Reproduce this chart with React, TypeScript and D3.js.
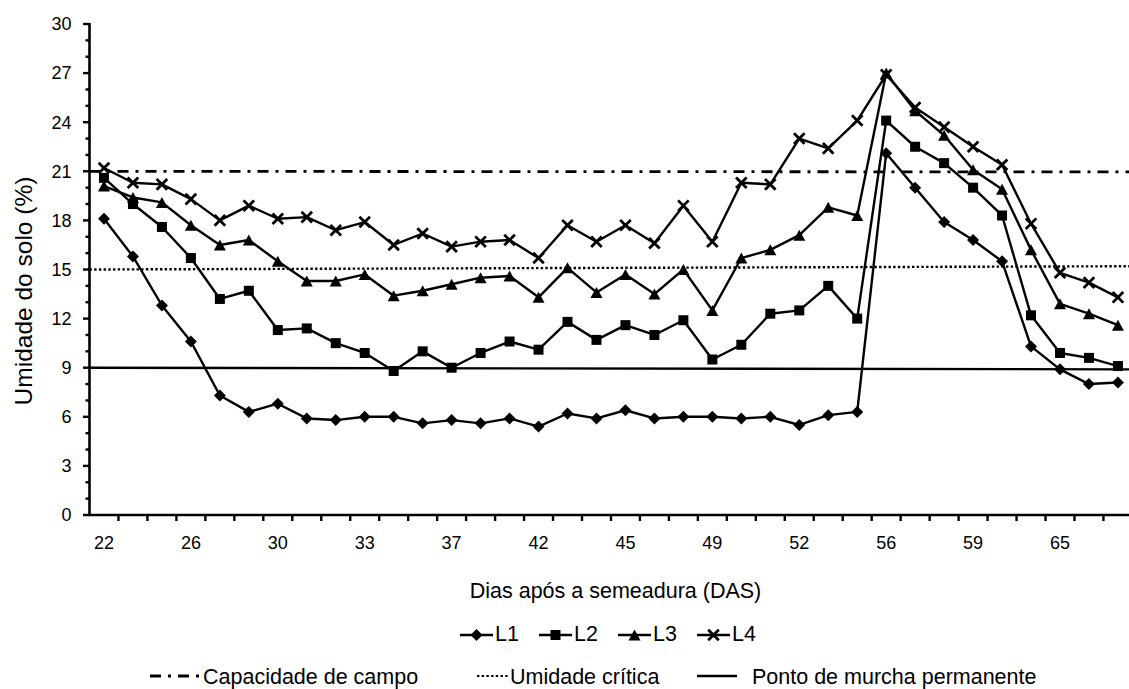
import React from "react";
import * as d3 from "d3";

// Soil moisture (%) at each sampling, per irrigation level
const L1 = [18.1, 15.8, 12.8, 10.6, 7.3, 6.3, 6.8, 5.9, 5.8, 6.0, 6.0, 5.6, 5.8, 5.6, 5.9, 5.4, 6.2, 5.9, 6.4, 5.9, 6.0, 6.0, 5.9, 6.0, 5.5, 6.1, 6.3, 22.1, 20.0, 17.9, 16.8, 15.5, 10.3, 8.9, 8.0, 8.1];
const L2 = [20.6, 19.0, 17.6, 15.7, 13.2, 13.7, 11.3, 11.4, 10.5, 9.9, 8.8, 10.0, 9.0, 9.9, 10.6, 10.1, 11.8, 10.7, 11.6, 11.0, 11.9, 9.5, 10.4, 12.3, 12.5, 14.0, 12.0, 24.1, 22.5, 21.5, 20.0, 18.3, 12.2, 9.9, 9.6, 9.1];
const L3 = [20.1, 19.4, 19.1, 17.7, 16.5, 16.8, 15.5, 14.3, 14.3, 14.7, 13.4, 13.7, 14.1, 14.5, 14.6, 13.3, 15.1, 13.6, 14.7, 13.5, 15.0, 12.5, 15.7, 16.2, 17.1, 18.8, 18.3, 27.0, 24.7, 23.2, 21.1, 19.9, 16.2, 12.9, 12.3, 11.6];
const L4 = [21.2, 20.3, 20.2, 19.3, 18.0, 18.9, 18.1, 18.2, 17.4, 17.9, 16.5, 17.2, 16.4, 16.7, 16.8, 15.7, 17.7, 16.7, 17.7, 16.6, 18.9, 16.7, 20.3, 20.2, 23.0, 22.4, 24.1, 26.9, 24.9, 23.7, 22.5, 21.4, 17.8, 14.8, 14.2, 13.3];

// DAS labels, written under every third sampling
const dasLabels = ["22", "26", "30", "33", "37", "42", "45", "49", "52", "56", "59", "65"];
const labelEvery = 3;

// Reference moisture levels (value at the left and right ends of the plot)
const capacidadeCampo = [21.0, 20.96];
const umidadeCritica = [15.0, 15.2];
const pontoMurcha = [9.0, 8.9];

const seriesNames = ["L1", "L2", "L3", "L4"];
const seriesValues = [L1, L2, L3, L4];

const W = 1129;
const H = 689;
const FONT = "'Liberation Sans', Arial, sans-serif";

const left = 89.5;
const band = 28.97;
const top = 24;
const bottom = 515;
const nCat = L1.length;
const right = left + band * nCat;

const x = d3.scaleBand<number>().domain(d3.range(nCat)).range([left, right]).padding(0);
const y = d3.scaleLinear().domain([0, 30]).range([bottom, top]);
const cx = (i: number) => (x(i) as number) + x.bandwidth() / 2;

const DASH_DOT = "11 7 3 7";
const DOTTED = "2.4 2.3";

function Marker({ kind, px, py }: { kind: number; px: number; py: number }) {
  if (kind === 0) {
    const r = 6;
    return <path d={`M${px},${py - r}L${px + r},${py}L${px},${py + r}L${px - r},${py}Z`} fill="#000" />;
  }
  if (kind === 1) {
    const r = 5;
    return <rect x={px - r} y={py - r} width={2 * r} height={2 * r} fill="#000" />;
  }
  if (kind === 2) {
    const hw = 6, hh = 5.5;
    return <path d={`M${px},${py - hh}L${px + hw},${py + hh}L${px - hw},${py + hh}Z`} fill="#000" />;
  }
  const r = 5.3;
  return (
    <path
      d={`M${px - r},${py - r}L${px + r},${py + r}M${px - r},${py + r}L${px + r},${py - r}`}
      stroke="#000"
      strokeWidth={2.8}
      fill="none"
    />
  );
}

export default function App() {
  const line = d3
    .line<number>()
    .x((_, i) => cx(i))
    .y((v) => y(v));

  const majorTicks = d3.range(0, 31, 3);
  const minorTicks = d3.range(0, 31, 1).filter((v) => v % 3 !== 0);

  const refLine = (vals: number[]) => ({ y1: y(vals[0]), y2: y(vals[1]) });

  const legendStart = 460;
  const legendPitch = 79;
  const legendY = 635;

  return (
    <div style={{ position: "fixed", left: 0, top: 0 }}>
      <svg width={W} height={H} style={{ display: "block", background: "#fff" }} fontFamily={FONT}>
        <rect width={W} height={H} fill="#fff" />

        {/* reference levels */}
        <line x1={left} x2={right} {...refLine(capacidadeCampo)} stroke="#000" strokeWidth={2.8} strokeDasharray={DASH_DOT} />
        <line x1={left} x2={right} {...refLine(umidadeCritica)} stroke="#000" strokeWidth={2.4} strokeDasharray={DOTTED} />
        <line x1={left} x2={right} {...refLine(pontoMurcha)} stroke="#000" strokeWidth={2.4} />

        {/* series */}
        {seriesValues.map((vals, s) => (
          <g key={seriesNames[s]}>
            <path d={line(vals) || ""} fill="none" stroke="#000" strokeWidth={2.4} strokeLinejoin="round" />
            {vals.map((v, i) => (
              <Marker key={i} kind={s} px={cx(i)} py={y(v)} />
            ))}
          </g>
        ))}

        {/* y axis */}
        <line x1={left} x2={left} y1={top - 1} y2={bottom + 1} stroke="#000" strokeWidth={2.6} />
        {majorTicks.map((t) => (
          <g key={"M" + t}>
            <line x1={left - 6.5} x2={left} y1={y(t)} y2={y(t)} stroke="#000" strokeWidth={2.4} />
            <text x={71.5} y={y(t)} dy="0.35em" textAnchor="end" fontSize={18}>
              {t}
            </text>
          </g>
        ))}
        {minorTicks.map((t) => (
          <line key={"m" + t} x1={left - 4} x2={left} y1={y(t)} y2={y(t)} stroke="#000" strokeWidth={2.4} />
        ))}
        <text transform={`translate(32,291) rotate(-90)`} textAnchor="middle" fontSize={24.5}>
          Umidade do solo (%)
        </text>

        {/* x axis */}
        <line x1={left - 1} x2={right} y1={bottom} y2={bottom} stroke="#000" strokeWidth={2.6} />
        {d3.range(1, nCat + 1).map((i) => (
          <line key={"xt" + i} x1={left + i * band} x2={left + i * band} y1={bottom} y2={bottom + 6} stroke="#000" strokeWidth={2.4} />
        ))}
        {dasLabels.map((lab, k) => (
          <text key={lab} x={cx(k * labelEvery)} y={548.5} textAnchor="middle" fontSize={18}>
            {lab}
          </text>
        ))}
        <text x={615.5} y={598} textAnchor="middle" fontSize={21.5}>
          Dias após a semeadura (DAS)
        </text>

        {/* series legend */}
        {seriesNames.map((name, s) => {
          const x0 = legendStart + s * legendPitch;
          return (
            <g key={"lg" + name}>
              <line x1={x0} x2={x0 + 33} y1={legendY} y2={legendY} stroke="#000" strokeWidth={2.4} />
              <Marker kind={s} px={x0 + 16.5} py={legendY} />
              <text x={x0 + 35} y={legendY + 6} fontSize={21.5}>
                {name}
              </text>
            </g>
          );
        })}

        {/* reference legend */}
        <line x1={150} x2={200} y1={676} y2={676} stroke="#000" strokeWidth={2.8} strokeDasharray={DASH_DOT} />
        <text x={203} y={684} fontSize={21.5}>Capacidade de campo</text>
        <line x1={477} x2={508} y1={676} y2={676} stroke="#000" strokeWidth={2} strokeDasharray={DOTTED} />
        <text x={510} y={684} fontSize={21.5}>Umidade crítica</text>
        <line x1={697} x2={737} y1={676} y2={676} stroke="#000" strokeWidth={2.4} />
        <text x={752} y={684} fontSize={21.5}>Ponto de murcha permanente</text>
      </svg>
    </div>
  );
}
